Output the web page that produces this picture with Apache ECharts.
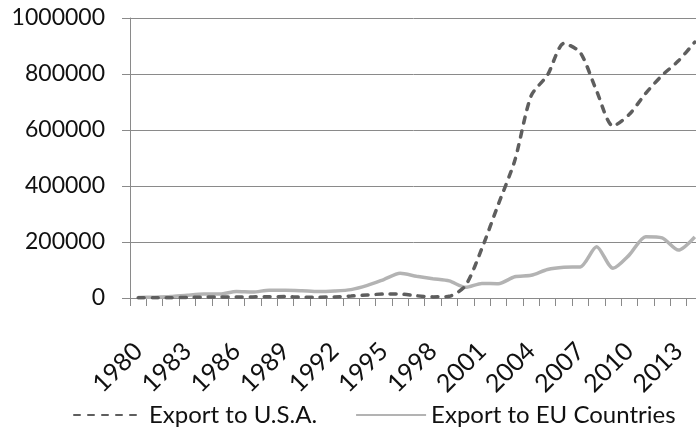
<!DOCTYPE html>
<html>
<head>
<meta charset="utf-8">
<script src="https://cdn.jsdelivr.net/npm/echarts@6/dist/echarts.min.js"></script>
<style>
  html, body { margin: 0; padding: 0; background: #fff; }
  #chart { width: 696px; height: 432px; }
</style>
</head>
<body>
<div id="chart"></div>
<script>
// Years on the category axis
const years = [];
for (let y = 1980; y <= 2014; y++) years.push(String(y));

// Export values per year
const exportUSA = [
  500, 800, 1000, 2000, 3000, 4000, 3500, 4000, 4500, 5000,
  3000, 3000, 4000, 7000, 11000, 14000, 14000, 8000, 4000, 6000,
  45000, 178000, 335000, 490000, 722000, 796000, 909000, 877000, 740000, 614000,
  656000, 731000, 795000, 847000, 914000
];
const exportEU = [
  2000, 3000, 5000, 10000, 14000, 14000, 23000, 21000, 28000, 28000,
  26000, 23000, 25000, 30000, 45000, 66000, 88000, 78000, 69000, 61000,
  38000, 52000, 51000, 76000, 81000, 102000, 110000, 111000, 183000, 106000,
  154000, 219000, 215000, 171000, 218000
];

// Value axis ticks
const yMin = 0, yMax = 1000000, yStep = 200000;

const FONT = 'Lato';
const TEXT = '#111111';
const GRID = '#8a8a8a';
const chart = echarts.init(document.getElementById('chart'), null, { renderer: 'canvas' });

chart.setOption({
  animation: false,
  backgroundColor: '#ffffff',
  textStyle: { fontFamily: FONT },
  grid: {
    left: 130, right: -7, top: 18, height: 280,
    containLabel: false, outerBoundsMode: 'none'
  },
  legend: {
    left: 68, top: 398,
    itemWidth: 70, itemHeight: 14, itemGap: 38,
    itemStyle: { opacity: 0 },
    textStyle: { fontFamily: FONT, fontSize: 24, color: TEXT },
    data: ['Export to U.S.A.', 'Export to EU Countries']
  },
  xAxis: {
    type: 'category',
    data: years,
    boundaryGap: true,
    axisLine: { lineStyle: { color: GRID, width: 1 } },
    axisTick: { show: true, interval: 0, length: 8, lineStyle: { color: GRID } },
    axisLabel: {
      interval: 2, rotate: 45, margin: 49,
      fontFamily: FONT, fontSize: 25, color: TEXT
    },
    splitLine: { show: false }
  },
  yAxis: {
    type: 'value',
    min: yMin, max: yMax, interval: yStep,
    axisLine: { show: true, lineStyle: { color: GRID, width: 1 } },
    axisTick: { show: true, length: 8, lineStyle: { color: GRID } },
    axisLabel: {
      margin: 25, fontFamily: FONT, fontSize: 23, color: TEXT,
      formatter: v => String(v)
    },
    splitLine: { show: true, lineStyle: { color: GRID, width: 1 } }
  },
  series: [
    {
      name: 'Export to U.S.A.',
      type: 'line',
      data: exportUSA,
      smooth: 0.25,
      symbol: 'none',
      itemStyle: { color: '#5e5e5e' },
      lineStyle: { color: '#5e5e5e', width: 3.5, type: [6, 8], cap: 'round' },
      z: 3
    },
    {
      name: 'Export to EU Countries',
      type: 'line',
      data: exportEU,
      smooth: 0.25,
      symbol: 'none',
      itemStyle: { color: '#b3b3b3' },
      lineStyle: { color: '#b3b3b3', width: 3.5 },
      z: 2
    }
  ]
});
</script>
</body>
</html>
